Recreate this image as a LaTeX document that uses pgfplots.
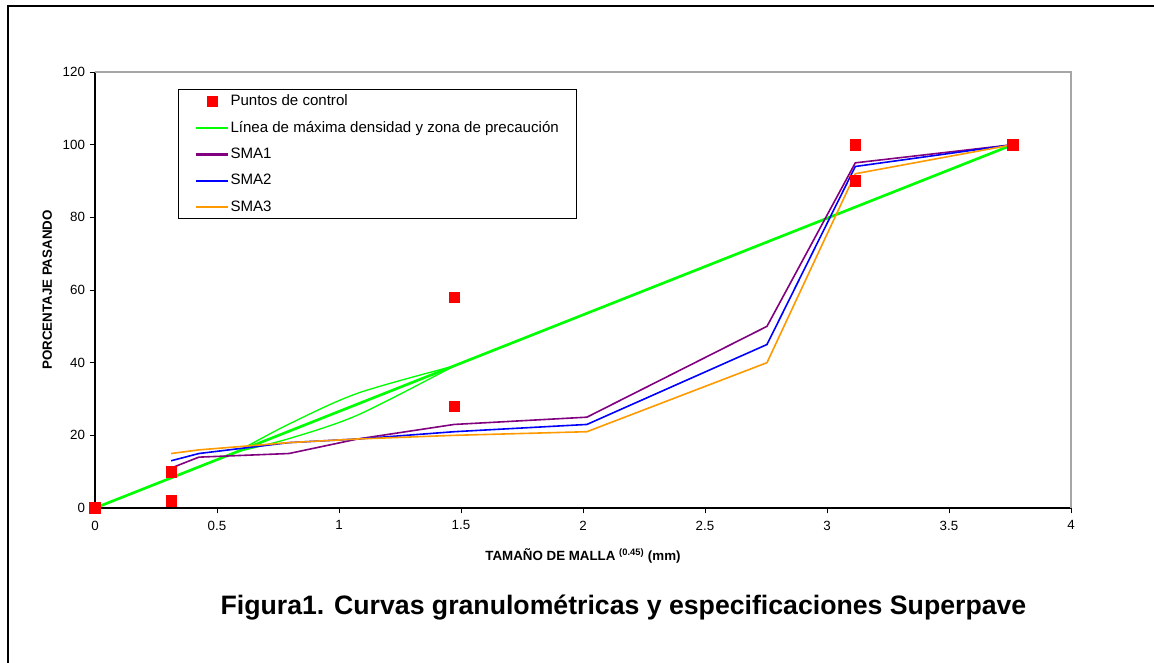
\documentclass[border=0pt]{standalone}
\usepackage{pgfplots}
\pgfplotsset{compat=1.18}
\usepackage{pgfplotstable}
\usepackage{fontspec}
\setmainfont{Liberation Sans}
\definecolor{cgreen}{RGB}{0,255,0}
\definecolor{cpurple}{RGB}{128,0,128}
\definecolor{cblue}{RGB}{0,0,255}
\definecolor{corange}{RGB}{255,153,0}
\definecolor{cred}{RGB}{255,0,0}
\pgfplotstableread{
x y
0 0
0.312 2
0.312 10
1.472 28
1.472 58
3.116 90
3.116 100
3.762 100
}\control
\pgfplotstableread{
x y
0 0
3.762 100
}\maxline
\pgfplotstableread{
x y
0.582 15.5
0.795 23.1
1.077 31.6
1.472 39.1
}\zoneup
\pgfplotstableread{
x y
0.582 15.5
0.795 19.1
1.077 25.6
1.472 39.1
}\zonelow
\pgfplotstableread{
x y
0.312 11
0.426 14
0.795 15
1.077 19
1.472 23
2.016 25
2.754 50
3.116 95
3.762 100
}\smaone
\pgfplotstableread{
x y
0.312 13
0.426 15
0.795 18
1.077 19
1.472 21
2.016 23
2.754 45
3.116 94
3.762 100
}\smatwo
\pgfplotstableread{
x y
0.312 15
0.426 16
0.795 18
1.077 19
1.472 20
2.016 21
2.754 40
3.116 92
3.762 100
}\smathree
\begin{document}
\begin{tikzpicture}
\useasboundingbox (0pt,0pt) rectangle (865.5pt,-496.5pt);
\draw[line width=1.6pt] (6pt,-520pt) -- (6pt,-4.5pt) -- (880pt,-4.5pt);
\begin{axis}[
  at={(71.25pt,-381pt)}, anchor=south west,
  scale only axis, width=732pt, height=327pt,
  xmin=0, xmax=4, ymin=0, ymax=120,
  xtick={0,0.5,...,4}, ytick={0,20,...,120},
  axis x line*=bottom, axis y line*=left,
  axis line style={black, line width=0.9pt, -},
  tick align=outside, major tick length=4pt,
  tick style={black, line width=0.6pt},
  every tick label/.append style={font=\fontsize{10}{12}\selectfont},
  xticklabel style={yshift=-2pt},
  /pgf/number format/assume math mode=true,
  clip=false,
  xlabel={\bfseries TAMAÑO DE MALLA \textsuperscript{\fontsize{7}{8}\selectfont(0.45)} (mm)},
  xlabel style={at={(axis description cs:0.5,-0.11)}, anchor=center, font=\fontsize{10}{12}\selectfont},
  ylabel={\bfseries PORCENTAJE PASANDO},
  ylabel style={at={(axis description cs:-0.049,0.5)}, anchor=center, rotate=0, font=\fontsize{10}{12}\selectfont},
  legend style={at={(axis description cs:0.085,0.961)}, anchor=north west,
    draw=black, line width=0.6pt, font=\fontsize{11.3}{13}\selectfont,
    inner xsep=12.5pt, inner ysep=2pt, row sep=6.3pt, cells={anchor=west},
    nodes={inner xsep=1pt}},
  legend cell align=left,
  legend image code/.code={\draw[#1, line width=1.6pt] (0pt,0pt) -- (24pt,0pt);},
]
\draw[gray!70, line width=0.8pt] (rel axis cs:0,1) -- (rel axis cs:1,1) -- (rel axis cs:1,0);
\addlegendimage{only marks, mark=square*, mark size=3.6pt, color=cred, legend image code/.code={\draw[only marks, mark=square*, mark size=3.6pt, color=cred] plot coordinates {(12pt,0pt)};}}
\addlegendentry{Puntos de control}
\addplot[cgreen, line width=2pt] table {\maxline};
\addlegendentry{Línea de máxima densidad y zona de precaución}
\addplot[cgreen, line width=1pt, smooth, forget plot] table {\zoneup};
\addplot[cgreen, line width=1pt, smooth, forget plot] table {\zonelow};
\addplot[cpurple, line width=1.2pt] table {\smaone};
\addlegendentry{SMA1}
\addplot[cblue, line width=1.2pt] table {\smatwo};
\addlegendentry{SMA2}
\addplot[corange, line width=1.2pt] table {\smathree};
\addlegendentry{SMA3}
\addplot[only marks, mark=square*, mark size=4pt, color=cred, forget plot] table {\control};
\end{axis}
\node[font=\bfseries\fontsize{20}{24}\selectfont] at (467.6pt,-455.3pt) {Figura1. Curvas granulométricas y especificaciones Superpave};
\end{tikzpicture}
\end{document}
